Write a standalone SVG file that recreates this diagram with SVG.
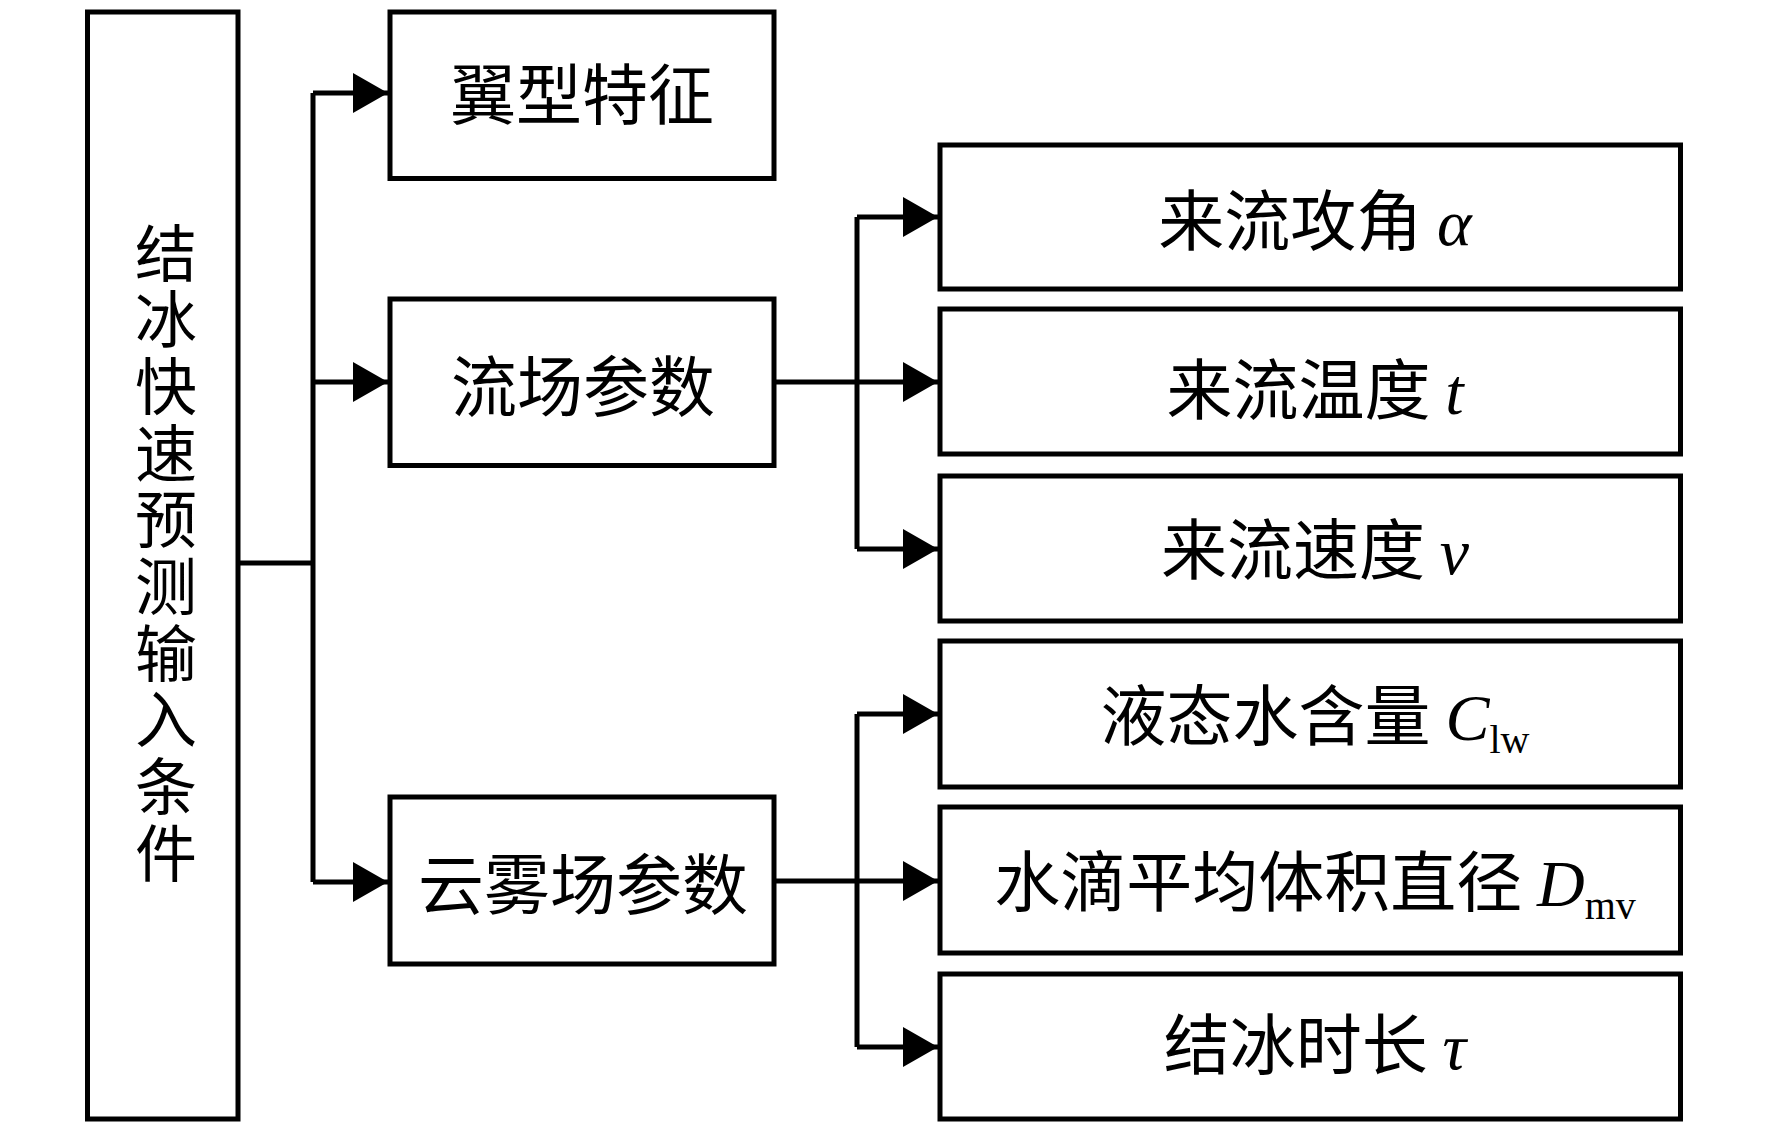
<svg xmlns="http://www.w3.org/2000/svg" width="1772" height="1128" viewBox="0 0 1772 1128">
<style>
.box{fill:#fff;stroke:#000;stroke-width:5}
.cn{font-family:"Noto Sans CJK SC","Noto Sans CJK JP",sans-serif;font-size:66px;fill:#000}
.vt{font-family:"Noto Sans CJK SC","Noto Sans CJK JP",sans-serif;font-size:62px;fill:#000;writing-mode:vertical-rl;letter-spacing:4.7px}
.it{font-family:"Liberation Serif",serif;font-style:italic;font-size:66px}
.sub{font-family:"Liberation Serif",serif;font-style:normal;font-size:40px}
.ln{fill:none;stroke:#000;stroke-width:5}
</style>
<defs>
<marker id="ah" markerUnits="userSpaceOnUse" markerWidth="36" markerHeight="42" refX="35" refY="21" orient="auto">
<path d="M0,1 L35,21 L0,41 z" fill="#000"/>
</marker>
</defs>
<rect width="1772" height="1128" fill="#fff"/>
<g id="connectors">
<path class="ln" d="M238,563 H313"/>
<path class="ln" d="M313,882 V93"/>
<path class="ln" d="M313,93 H388" marker-end="url(#ah)"/>
<path class="ln" d="M313,382 H388" marker-end="url(#ah)"/>
<path class="ln" d="M313,882 H388" marker-end="url(#ah)"/>
<path class="ln" d="M774,382 H938" marker-end="url(#ah)"/>
<path class="ln" d="M857,217 V549"/>
<path class="ln" d="M857,217 H938" marker-end="url(#ah)"/>
<path class="ln" d="M857,549 H938" marker-end="url(#ah)"/>
<path class="ln" d="M774,881 H938" marker-end="url(#ah)"/>
<path class="ln" d="M857,714 V1047"/>
<path class="ln" d="M857,714 H938" marker-end="url(#ah)"/>
<path class="ln" d="M857,1047 H938" marker-end="url(#ah)"/>
</g>
<g id="root">
<rect class="box" x="87.5" y="12" width="150.5" height="1107"/>
<text class="vt" x="166" y="222">结冰快速预测输入条件</text>
</g>
<g id="airfoil">
<rect class="box" x="390" y="12" width="384" height="166.5"/>
<text class="cn" x="582" y="119" text-anchor="middle">翼型特征</text>
</g>
<g id="flowfield">
<rect class="box" x="390" y="299" width="384" height="166.5"/>
<text class="cn" x="583" y="411" text-anchor="middle">流场参数</text>
</g>
<g id="cloud">
<rect class="box" x="390" y="797" width="384" height="167"/>
<text class="cn" x="583" y="909" text-anchor="middle">云雾场参数</text>
</g>
<g id="aoa">
<rect class="box" x="940" y="145" width="740.5" height="144"/>
<text class="cn" x="1315" y="245" text-anchor="middle">来流攻角 <tspan class="it">α</tspan></text>
</g>
<g id="temp">
<rect class="box" x="940" y="309" width="740.5" height="145"/>
<text class="cn" x="1315" y="414" text-anchor="middle">来流温度 <tspan class="it">t</tspan></text>
</g>
<g id="vel">
<rect class="box" x="940" y="476" width="740.5" height="145"/>
<text class="cn" x="1315" y="574" text-anchor="middle">来流速度 <tspan class="it">v</tspan></text>
</g>
<g id="lwc">
<rect class="box" x="940" y="641" width="740.5" height="146"/>
<text class="cn" x="1315" y="740" text-anchor="middle">液态水含量 <tspan class="it">C</tspan><tspan class="sub" dy="13">lw</tspan></text>
</g>
<g id="mvd">
<rect class="box" x="940" y="807" width="740.5" height="146"/>
<text class="cn" x="1315" y="906" text-anchor="middle">水滴平均体积直径 <tspan class="it">D</tspan><tspan class="sub" dy="13">mv</tspan></text>
</g>
<g id="time">
<rect class="box" x="940" y="974" width="740.5" height="145"/>
<text class="cn" x="1315" y="1069" text-anchor="middle">结冰时长 <tspan class="it">τ</tspan></text>
</g>
</svg>
